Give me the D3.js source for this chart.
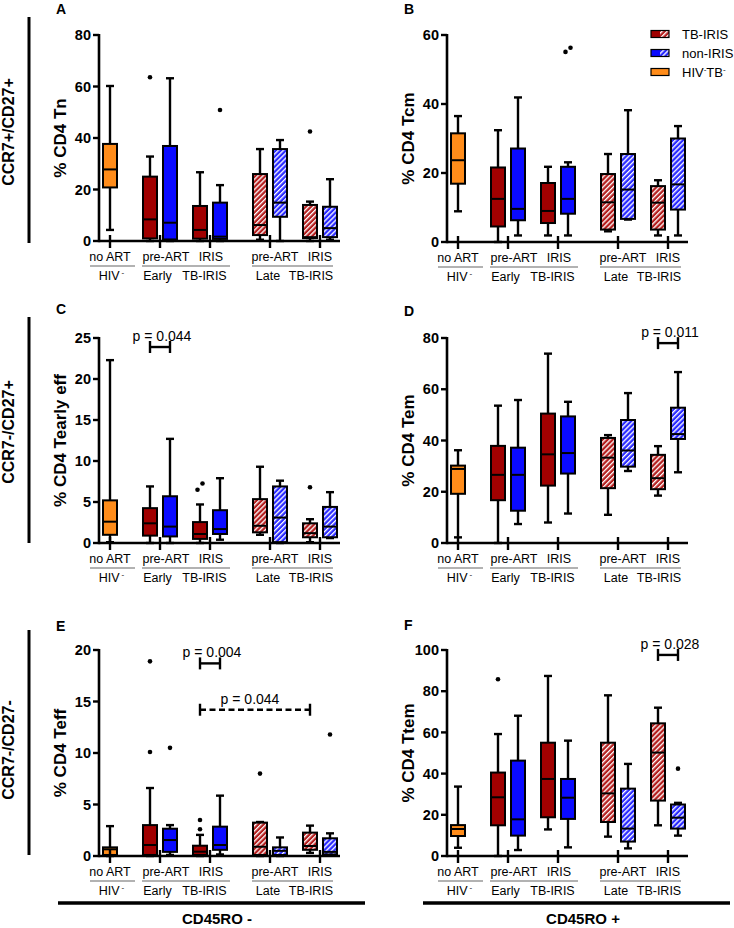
<!DOCTYPE html>
<html><head><meta charset="utf-8">
<script src="https://cdn.jsdelivr.net/npm/d3@7"></script>
<style>
body{margin:0;background:#fff}
svg{display:block}
text{font-family:Arial,"Liberation Sans",sans-serif;fill:#000}
</style>
</head><body>
<svg id="chart" width="734" height="928"></svg>
<script>
// ---------------- DATA ----------------
const groups = ["HIV- no ART","Early pre-ART TB-IRIS","Early pre-ART non-IRIS","Early IRIS TB-IRIS","Early IRIS non-IRIS",
                "Late pre-ART TB-IRIS","Late pre-ART non-IRIS","Late IRIS TB-IRIS","Late IRIS non-IRIS"];
const groupKind = ["orange","red","blue","red","blue","redH","blueH","redH","blueH"];

// [low whisker, Q1, median, Q3, high whisker]
const statsA = [[4.3,20.8,27.8,37.7,60.2],[0,1,8.4,25,32.8],[0,0.6,7.1,36.9,63.2],[0,0.9,4.3,13.6,26.7],[0,0.8,1.7,14.9,21.7],
                [0.5,2.3,6.2,26,35.7],[0,9.4,14.9,35.7,39.2],[0,1.1,1.5,14,15.3],[0.5,1.5,5,13.3,24]];
const outA = [[],[63.6],[],[],[50.9],[],[],[42.5],[]];

const statsB = [[8.9,16.9,23.7,31.5,36.5],[0,4.5,12.5,21.6,32.4],[1.9,6.3,9.6,27.1,41.9],[1.9,5.5,9,17.1,21.8],[1.9,8.2,12.5,21.8,23.1],
                [3.1,3.6,11.5,19.7,25.5],[6.5,6.7,15.2,25.5,38.2],[1.9,3.6,11.4,16.2,17.9],[1.9,9.4,16.7,30,33.6]];
const outB = [[],[],[],[],[55.1,56.3],[],[],[],[]];

const statsC = [[0.1,1,2.6,5.2,22.3],[0,0.9,2.4,4.25,6.9],[0,0.8,2,5.7,12.7],[0,0.5,1.1,2.55,4.7],[0.4,1.1,1.7,4,7.9],
                [1,1.3,2.1,5.35,9.3],[0,0.1,3.1,6.9,7.6],[0.1,0.7,1.2,2.4,2.9],[0.6,0.7,2,4.4,6.2]];
const outC = [[],[],[],[6.5,7.25],[],[],[],[6.8],[]];

const statsD = [[2.2,19.2,28.9,30.2,36.2],[0,16.7,26.6,37.9,53.6],[7.4,12.6,26.6,37.2,55.8],[8,22.4,34.6,50.5,73.9],[11.5,27.1,35.1,49.4,55.1],
                [11,21.4,33.3,41,42.1],[28.1,29.8,36.1,48,58.5],[18.5,21,25.3,34.4,37.8],[27.6,40.6,42.5,52.8,66.7]];
const outD = [[],[],[],[],[],[],[],[],[]];

const statsE = [[0,0.1,0.65,0.84,2.9],[0,0.1,1.07,3.0,6.6],[0.1,0.4,1.55,2.65,3.0],[0,0.1,0.42,1.0,2.05],[0.15,0.6,1.07,2.85,5.86],
                [0,0.1,0.9,3.24,3.3],[0,0.1,0.5,0.84,1.8],[0.3,0.6,0.97,2.27,2.95],[0.1,0.15,0.4,1.72,2.2]];
const outE = [[],[10.1,18.9],[10.5],[2.6,3.5],[],[8.0],[],[],[11.8]];

const statsF = [[4,9.7,13.1,15,33.7],[0,14.9,28.5,40.5,59.2],[2.9,9.9,17.8,46.3,68.1],[12.9,18.8,37.4,55,87.4],[4.2,18,28.3,37.4,56],
                [9.4,16.5,30.4,55,78],[3.7,7,13.3,32.7,44.7],[14.9,26.9,50.2,64.4,72],[9.9,13.3,18.6,25,25.8]];
const outF = [[],[85.8],[],[],[],[],[],[],[42.4]];

// significance brackets: [from group, to group, value, label, dashed]
const sigC = [[1,2,23.9,"p = 0.044",false]];
const sigD = [[7,8,78,"p = 0.011",false]];
const sigE = [[3,4,18.7,"p = 0.004",false],[3,7,14.2,"p = 0.044",true]];
const sigF = [[7,8,97.6,"p = 0.028",false]];

const ticksA = [0,20,40,60,80], ticksB = [0,20,40,60], ticksC = [0,5,10,15,20,25],
      ticksD = [0,20,40,60,80], ticksE = [0,5,10,15,20], ticksF = [0,20,40,60,80,100];

const yTitles = ["% CD4 Tn","% CD4 Tcm","% CD4 Tearly eff","% CD4 Tem","% CD4 Teff","% CD4 Ttem"];
const panelLetters = ["A","B","C","D","E","F"];
const rowLabels = ["CCR7+/CD27+","CCR7-/CD27+","CCR7-/CD27-"];
const row1Labels = ["no ART","pre-ART","IRIS","pre-ART","IRIS"];
const row2Labels = ["HIV","Early","TB-IRIS","Late","TB-IRIS"];
const bottomLabels = ["CD45RO -","CD45RO +"];
const legendLabels = ["TB-IRIS","non-IRIS","HIV"];

// ---------------- LAYOUT ----------------
const svg = d3.select("#chart");
const colors = {orange:"#ff8c1a", red:"#a00000", blue:"#0a0aff", redH:"#b41e1e", blueH:"#2a2aff"};
const defs = svg.append("defs");
function hatch(id, col){
  const p = defs.append("pattern").attr("id",id).attr("patternUnits","userSpaceOnUse")
    .attr("width",3.6).attr("height",3.6).attr("patternTransform","rotate(45)");
  p.append("rect").attr("width",3.6).attr("height",3.6).attr("fill",col);
  p.append("rect").attr("x",0).attr("width",1.3).attr("height",3.6).attr("fill","#fff");
}
hatch("hRed", colors.redH); hatch("hBlue", colors.blueH);
const fillOf = k => k==="redH" ? "url(#hRed)" : k==="blueH" ? "url(#hBlue)" : colors[k];

// slot units of each group along the x axis
const slot = [0,4,6,9,11,15,17,20,22];
const xTickUnits = [0,5,10,16,21];
const row1Units = [0,5.6,10.1,16.5,21];
const row2Units = [0.15,4.75,9.45,15.8,20.1];
const underlines = [[-2,2.5],[3.2,12],[14.2,22.3]];

const panels = [
  {x0:99,  yTop:35,  yBot:241, max:80,  stats:statsA, out:outA, ticks:ticksA, sig:[]},
  {x0:447, yTop:35,  yBot:242, max:60,  stats:statsB, out:outB, ticks:ticksB, sig:[]},
  {x0:99,  yTop:338, yBot:543, max:25,  stats:statsC, out:outC, ticks:ticksC, sig:sigC},
  {x0:447, yTop:338, yBot:543, max:80,  stats:statsD, out:outD, ticks:ticksD, sig:sigD},
  {x0:99,  yTop:650, yBot:856, max:20,  stats:statsE, out:outE, ticks:ticksE, sig:sigE},
  {x0:447, yTop:650, yBot:856, max:100, stats:statsF, out:outF, ticks:ticksF, sig:sigF}
];
const letterY = [14,14,314,316,631,630];

panels.forEach((P,pi)=>{
  const g = svg.append("g");
  const x = d3.scaleLinear().domain([-1.1,23]).range([P.x0, P.x0+241]);
  const y = d3.scaleLinear().domain([0,P.max]).range([P.yBot, P.yTop]);
  const bw = 14, cw = 8;

  // boxes
  P.stats.forEach((s,i)=>{
    const cx = x(slot[i]);
    const k = groupKind[i];
    const bg = g.append("g");
    bg.append("line").attr("x1",cx).attr("x2",cx).attr("y1",y(s[0])).attr("y2",y(s[1]))
      .attr("stroke","#000").attr("stroke-width",2.4);
    bg.append("line").attr("x1",cx).attr("x2",cx).attr("y1",y(s[3])).attr("y2",y(s[4]))
      .attr("stroke","#000").attr("stroke-width",2.4);
    [s[0],s[4]].forEach(v=>{
      bg.append("line").attr("x1",cx-cw/2).attr("x2",cx+cw/2).attr("y1",y(v)).attr("y2",y(v))
        .attr("stroke","#000").attr("stroke-width",2.4);
    });
    bg.append("rect").attr("x",cx-bw/2).attr("width",bw).attr("y",y(s[3])).attr("height",Math.max(0.5,y(s[1])-y(s[3])))
      .attr("fill",fillOf(k)).attr("stroke","#000").attr("stroke-width",2);
    bg.append("line").attr("x1",cx-bw/2).attr("x2",cx+bw/2).attr("y1",y(s[2])).attr("y2",y(s[2]))
      .attr("stroke","#000").attr("stroke-width",2);
    const outs = P.out[i].slice().sort((a,b)=>a-b);
    outs.forEach((v,j)=>{
      let dx = 0;
      const near = outs.some((w,m)=>m!==j && Math.abs(y(w)-y(v))<8);
      if(near) dx = (j%2===0?-2.5:2.5);
      bg.append("circle").attr("cx",cx+dx).attr("cy",y(v)).attr("r",2.3).attr("fill","#000");
    });
  });

  // axes
  g.append("line").attr("x1",P.x0).attr("x2",P.x0).attr("y1",P.yTop-1).attr("y2",P.yBot+1.2)
    .attr("stroke","#000").attr("stroke-width",2.6);
  g.append("line").attr("x1",P.x0).attr("x2",P.x0+241).attr("y1",P.yBot).attr("y2",P.yBot)
    .attr("stroke","#000").attr("stroke-width",2.6);
  P.ticks.forEach(t=>{
    g.append("line").attr("x1",P.x0-6).attr("x2",P.x0).attr("y1",y(t)).attr("y2",y(t))
      .attr("stroke","#000").attr("stroke-width",2.4);
    g.append("text").attr("x",P.x0-8).attr("y",y(t)).attr("dy","0.36em").attr("text-anchor","end")
      .attr("font-size",14.5).attr("font-weight","bold").text(t);
  });
  xTickUnits.forEach(u=>{
    g.append("line").attr("x1",x(u)).attr("x2",x(u)).attr("y1",P.yBot-6).attr("y2",P.yBot+7)
      .attr("stroke","#000").attr("stroke-width",2.4);
  });
  row1Labels.forEach((t,i)=>{
    g.append("text").attr("x",x(row1Units[i])).attr("y",P.yBot+20).attr("text-anchor","middle")
      .attr("font-size",12.5).text(t);
  });
  underlines.forEach(u=>{
    g.append("line").attr("x1",x(u[0])).attr("x2",x(u[1])).attr("y1",P.yBot+25).attr("y2",P.yBot+25)
      .attr("stroke","#666").attr("stroke-width",1.2);
  });
  row2Labels.forEach((t,i)=>{
    const tx = g.append("text").attr("x",x(row2Units[i])).attr("y",P.yBot+39).attr("text-anchor","middle")
      .attr("font-size",12.5);
    tx.append("tspan").text(t);
    if(i===0) tx.append("tspan").attr("dx",2).attr("dy",-5).attr("font-size",8).text("-");
  });

  const ty = (P.yTop+P.yBot)/2;
  g.append("text").attr("transform",`translate(${P.x0-33},${ty}) rotate(-90)`).attr("text-anchor","middle")
    .attr("font-size",17).attr("font-weight","bold").text(yTitles[pi]);
  g.append("text").attr("x",P.x0-43).attr("y",letterY[pi]).attr("font-size",14).attr("font-weight","bold").text(panelLetters[pi]);

  P.sig.forEach(sg=>{
    const x1 = x(slot[sg[0]]), x2 = x(slot[sg[1]]), yy = y(sg[2]);
    g.append("line").attr("x1",x1).attr("x2",x2).attr("y1",yy).attr("y2",yy)
      .attr("stroke","#000").attr("stroke-width",2.4).attr("stroke-dasharray",sg[4]?"6,3.5":null);
    [x1,x2].forEach(xx=>g.append("line").attr("x1",xx).attr("x2",xx).attr("y1",yy-6).attr("y2",yy+6)
      .attr("stroke","#000").attr("stroke-width",2.4));
    g.append("text").attr("x",(x1+x2)/2 - (sg[4]?5:-2)).attr("y",yy-6).attr("text-anchor","middle")
      .attr("font-size",14).text(sg[3]);
  });
});

const rowY = [[17,243],[317,543],[630,855]];
rowLabels.forEach((t,i)=>{
  svg.append("line").attr("x1",29).attr("x2",29).attr("y1",rowY[i][0]).attr("y2",rowY[i][1])
    .attr("stroke","#000").attr("stroke-width",3);
  const cy = [132,432,750][i];
  svg.append("text").attr("transform",`translate(14,${cy}) rotate(-90)`).attr("text-anchor","middle")
    .attr("font-size",16).attr("font-weight","bold").text(t);
});

[[58,365],[423,730]].forEach((b,i)=>{
  svg.append("line").attr("x1",b[0]).attr("x2",b[1]).attr("y1",903).attr("y2",903)
    .attr("stroke","#000").attr("stroke-width",3.5);
  svg.append("text").attr("x",[217,583][i]).attr("y",924).attr("text-anchor","middle")
    .attr("font-size",15).attr("font-weight","bold").text(bottomLabels[i]);
});

const legY = [34,53,72];
const legKinds = [["red","redH"],["blue","blueH"],["orange","orange"]];
legendLabels.forEach((t,i)=>{
  const lx = 651, ly = legY[i]-3.5;
  svg.append("rect").attr("x",lx).attr("y",ly).attr("width",9).attr("height",7).attr("fill",fillOf(legKinds[i][0]));
  svg.append("rect").attr("x",lx+9).attr("y",ly).attr("width",9).attr("height",7).attr("fill",fillOf(legKinds[i][1]));
  svg.append("rect").attr("x",lx).attr("y",ly).attr("width",18).attr("height",7).attr("fill","none")
    .attr("stroke","#000").attr("stroke-width",1.2);
  const tx = svg.append("text").attr("x",682).attr("y",legY[i]+4.5).attr("font-size",13);
  tx.append("tspan").text(t);
  if(i===2){
    tx.append("tspan").attr("dy",-5).attr("font-size",8).text("-");
    tx.append("tspan").attr("dy",5).text("TB");
    tx.append("tspan").attr("dy",-5).attr("font-size",8).text("-");
  }
});
</script>
</body></html>
